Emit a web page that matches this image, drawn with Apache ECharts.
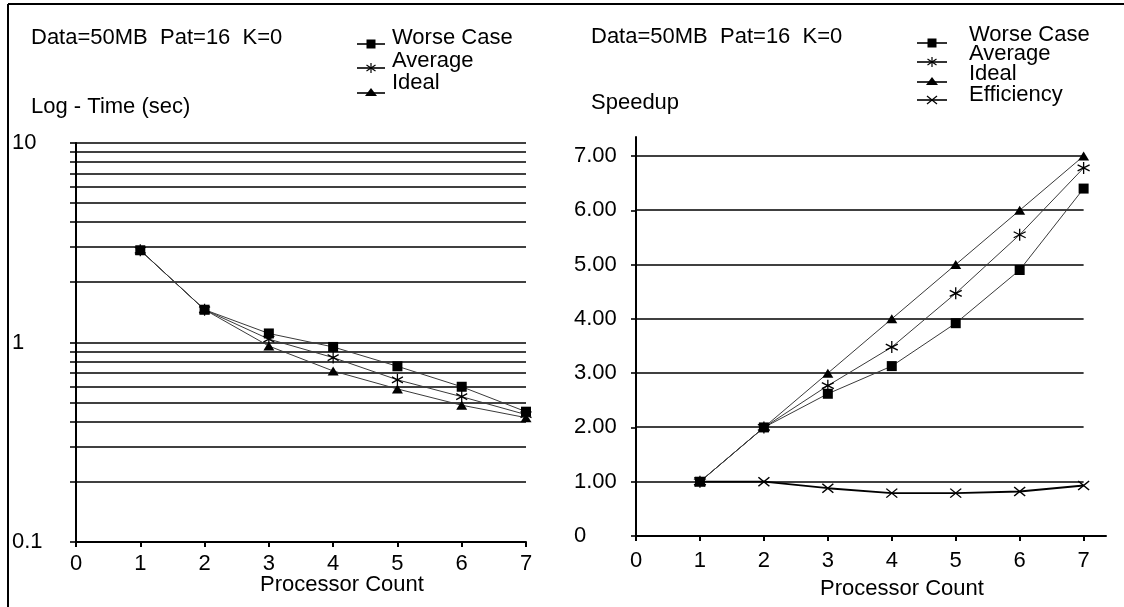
<!DOCTYPE html>
<html>
<head>
<meta charset="utf-8">
<script src="https://cdn.jsdelivr.net/npm/echarts@6/dist/echarts.min.js"></script>
<style>
  html, body { margin: 0; padding: 0; background: #fff; }
  #chart { width: 1124px; height: 607px; }
</style>
</head>
<body>
<div id="chart"></div>
<script>
// Processor counts on the x axis
const processors = [1, 2, 3, 4, 5, 6, 7];
const xTicks = [0, 1, 2, 3, 4, 5, 6, 7];

// Run time in seconds (log scale panel)
const timeWorse   = [2.9, 1.46, 1.11, 0.95, 0.76, 0.60, 0.45];
const timeAverage = [2.9, 1.46, 1.04, 0.84, 0.65, 0.535, 0.435];
const timeIdeal   = [2.9, 1.46, 0.96, 0.72, 0.585, 0.485, 0.42];

// Speedup panel
const speedWorse   = [1, 2, 2.62, 3.13, 3.92, 4.90, 6.40];
const speedAverage = [1, 2, 2.77, 3.48, 4.47, 5.55, 6.78];
const speedIdeal   = [1, 2, 3, 4, 5, 6, 7];
const efficiency   = [1, 1, 0.88, 0.79, 0.79, 0.82, 0.93];

// Horizontal rules
const timeMinorLevels = [0.2, 0.3, 0.4, 0.5, 0.6, 0.7, 0.8, 0.9, 2, 3, 4, 5, 6, 7, 8, 9];
const speedLevels = [1, 2, 3, 4, 5, 6, 7];
const speedTicks = [0, 1, 2, 3, 4, 5, 6, 7];

const FONT = "'Liberation Sans', Arial, sans-serif";
const FS = 22;
const INK = '#000';
const LINE = '#3a3a3a';
const RULE_W = 1.6;

const STAR = 'path://M0,-6L0,6M-5.2,-3L5.2,3M-5.2,3L5.2,-3';
const CROSS = 'path://M-5,-4L5,4M-5,4L5,-4';

const pairs = (ys) => processors.map((p, i) => [p, ys[i]]);

// Horizontal rules drawn from x0 to x1 with a short stub left of the axis
function ruleSeries(xi, yi, levels, x0, x1, stub) {
  return {
    type: 'custom',
    xAxisIndex: xi,
    yAxisIndex: yi,
    silent: true,
    clip: false,
    z: 1,
    data: levels.map(v => [x0, v, x1]),
    encode: { x: [0, 2], y: 1 },
    renderItem(params, api) {
      const a = api.coord([api.value(0), api.value(1)]);
      const b = api.coord([api.value(2), api.value(1)]);
      const y = Math.round(a[1]);
      return {
        type: 'line',
        shape: { x1: a[0] - stub, y1: y, x2: b[0], y2: y },
        style: { stroke: INK, lineWidth: RULE_W }
      };
    }
  };
}

function lineSeries(name, xi, yi, data, symbol, size, extra) {
  const isStroke = symbol.indexOf('path://') === 0;
  return Object.assign({
    name,
    type: 'line',
    xAxisIndex: xi,
    yAxisIndex: yi,
    data,
    symbol,
    symbolSize: size,
    showSymbol: true,
    z: 3,
    lineStyle: { color: LINE, width: 1 },
    itemStyle: {
      color: INK,
      borderColor: INK,
      borderWidth: isStroke ? 1.3 : 0
    }
  }, extra || {});
}

// Legend drawn as small graphic rows
function legendRow(x0, x1, yIcon, xText, yText, label, kind) {
  const cx = (x0 + x1) / 2;
  const els = [{
    type: 'line',
    shape: { x1: x0, y1: yIcon, x2: x1, y2: yIcon },
    style: { stroke: INK, lineWidth: 1.6 }
  }];
  if (kind === 'rect') {
    els.push({ type: 'rect', shape: { x: cx - 4.5, y: yIcon - 4.5, width: 9, height: 9 }, style: { fill: INK } });
  } else if (kind === 'tri') {
    els.push({ type: 'polygon', shape: { points: [[cx, yIcon - 5], [cx + 6, yIcon + 3], [cx - 6, yIcon + 3]] }, style: { fill: INK } });
  } else if (kind === 'star') {
    [[0, -5, 0, 5], [-4.5, -3, 4.5, 3], [-4.5, 3, 4.5, -3]].forEach(s => {
      els.push({ type: 'line', shape: { x1: cx + s[0], y1: yIcon + s[1], x2: cx + s[2], y2: yIcon + s[3] }, style: { stroke: INK, lineWidth: 1.2 } });
    });
  } else if (kind === 'cross') {
    [[-5, -4, 5, 4], [-5, 4, 5, -4]].forEach(s => {
      els.push({ type: 'line', shape: { x1: cx + s[0], y1: yIcon + s[1], x2: cx + s[2], y2: yIcon + s[3] }, style: { stroke: INK, lineWidth: 1.2 } });
    });
  }
  els.push({
    type: 'text',
    x: xText, y: yText,
    style: { text: label, font: FS + 'px ' + FONT, fill: INK, verticalAlign: 'middle' }
  });
  return els;
}

function label(text, x, y, align) {
  return {
    type: 'text', x, y,
    style: { text, font: FS + 'px ' + FONT, fill: INK, align: align || 'left', verticalAlign: 'middle' }
  };
}

const graphics = [
  // frame edges
  { type: 'line', shape: { x1: 8, y1: 4, x2: 1124, y2: 4 }, style: { stroke: INK, lineWidth: 2 } },
  { type: 'line', shape: { x1: 8, y1: 4, x2: 8, y2: 607 }, style: { stroke: INK, lineWidth: 2 } },
  label('Data=50MB  Pat=16  K=0', 31, 38),
  label('Log - Time (sec)', 31, 107),
  label('Processor Count', 342, 585, 'center'),
  label('Data=50MB  Pat=16  K=0', 591, 37),
  label('Speedup', 591, 103),
  label('Processor Count', 902, 589, 'center')
]
  .concat(legendRow(357, 385, 44, 392, 38, 'Worse Case', 'rect'))
  .concat(legendRow(357, 385, 68, 392, 61, 'Average', 'star'))
  .concat(legendRow(357, 385, 93, 392, 83, 'Ideal', 'tri'))
  .concat(legendRow(917, 947, 43, 969, 35, 'Worse Case', 'rect'))
  .concat(legendRow(917, 947, 62, 969, 54, 'Average', 'star'))
  .concat(legendRow(917, 947, 82, 969, 74, 'Ideal', 'tri'))
  .concat(legendRow(917, 947, 100, 969, 95, 'Efficiency', 'cross'));

const axisText = { color: INK, fontFamily: FONT, fontSize: FS };

const option = {
  animation: false,
  backgroundColor: '#fff',
  grid: [
    { left: 76, top: 143, width: 450, height: 399 },
    { left: 636, top: 137, width: 470, height: 399 }
  ],
  xAxis: [
    {
      gridIndex: 0, type: 'value', min: 0, max: 7, interval: 1,
      axisLine: { lineStyle: { color: INK, width: 2 } },
      axisTick: { show: true, length: 5, lineStyle: { color: INK, width: 2 } },
      axisLabel: Object.assign({ margin: 11 }, axisText),
      splitLine: { show: false }
    },
    {
      gridIndex: 1, type: 'value', min: 0, max: 7.35,
      axisLine: { lineStyle: { color: INK, width: 2 } },
      axisTick: { show: true, length: 5, customValues: xTicks, lineStyle: { color: INK, width: 2 } },
      axisLabel: Object.assign({ margin: 14, customValues: xTicks }, axisText),
      splitLine: { show: false }
    }
  ],
  yAxis: [
    {
      gridIndex: 0, type: 'log', logBase: 10, min: 0.1, max: 10,
      axisLine: { show: true, lineStyle: { color: INK, width: 2 } },
      axisTick: { show: true, length: 6, lineStyle: { color: INK, width: RULE_W } },
      axisLabel: Object.assign({
        margin: 64, align: 'left', padding: [0, 0, 6, 0],
        formatter: v => String(v)
      }, axisText),
      splitLine: { show: true, lineStyle: { color: INK, width: RULE_W } },
      minorTick: { show: false },
      minorSplitLine: { show: false }
    },
    {
      gridIndex: 1, type: 'value', min: 0, max: 7.35,
      axisLine: { show: true, lineStyle: { color: INK, width: 2 } },
      axisTick: { show: true, length: 5, customValues: speedTicks, lineStyle: { color: INK, width: RULE_W } },
      axisLabel: Object.assign({
        margin: 62, align: 'left', customValues: speedTicks,
        formatter: v => (v === 0 ? '0' : v.toFixed(2))
      }, axisText),
      splitLine: { show: false }
    }
  ],
  graphic: graphics,
  series: [
    ruleSeries(0, 0, timeMinorLevels, 0, 7, 6),
    ruleSeries(1, 1, speedLevels, 0, 7, 0),
    lineSeries('Worse Case', 0, 0, pairs(timeWorse), 'rect', 10),
    lineSeries('Average', 0, 0, pairs(timeAverage), STAR, [11, 12]),
    lineSeries('Ideal', 0, 0, pairs(timeIdeal), 'triangle', [11, 9]),
    lineSeries('Efficiency', 1, 1, pairs(efficiency), CROSS, [11, 9], { lineStyle: { color: INK, width: 1.8 } }),
    lineSeries('Worse Case', 1, 1, pairs(speedWorse), 'rect', 10),
    lineSeries('Average', 1, 1, pairs(speedAverage), STAR, [12, 12]),
    lineSeries('Ideal', 1, 1, pairs(speedIdeal), 'triangle', [11, 9])
  ]
};

const chart = echarts.init(document.getElementById('chart'), null, { renderer: 'canvas' });
chart.setOption(option);
</script>
</body>
</html>
